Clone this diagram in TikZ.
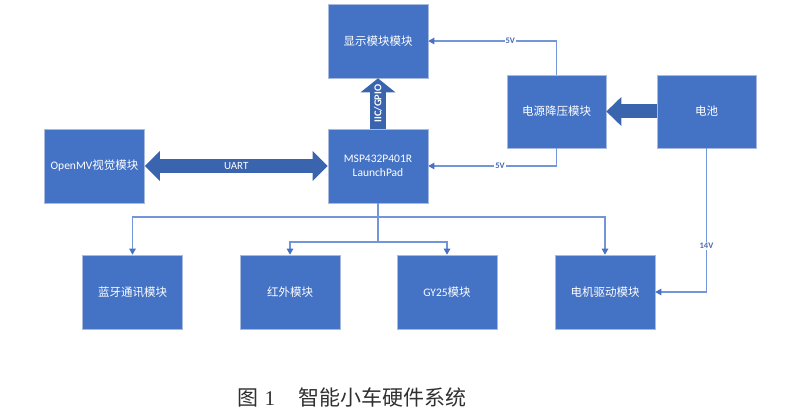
\documentclass[tikz,border=0pt]{standalone}
\usepackage{fontspec}
\setmainfont{Carlito}
\newfontfamily\cjk{Noto Sans CJK SC}
\newfontfamily\capserif{Liberation Serif}
\usetikzlibrary{arrows.meta}
\definecolor{modblue}{HTML}{4472C4}
\definecolor{lineblue}{HTML}{7396D8}
\definecolor{arrblue}{HTML}{3B64AE}
\definecolor{edgeblue}{HTML}{A8BBDF}
\definecolor{voltgray}{HTML}{4A6AAE}
\definecolor{captext}{HTML}{303030}
\tikzset{
  modbox/.style={draw=edgeblue, fill=modblue, line width=0.6pt,
              minimum width=100pt, minimum height=74pt, inner sep=0pt,
              align=center, text=white, font=\fontsize{11.5}{14}\selectfont},
  colorarr/.style={-{Triangle[length=6pt, width=6.5pt, color=modblue]}, line width=1.2pt, color=#1},
  busline/.style={line width=1.2pt, color=lineblue},
  blockarr/.style={line width=#1, color=arrblue},
  bigtip/.tip={Triangle[length=15pt, width=29pt]},
  volt/.style={font=\fontsize{8.5}{9}\selectfont\bfseries, text=voltgray, fill=white, inner sep=1pt},
}

\begin{document}
\begin{tikzpicture}[x=1pt, y=-1pt]
  \useasboundingbox (0,0) rectangle (793,414);

  % Top row
  \node[modbox] (disp) at (378,41) {{\cjk 显示模块模块}};

  % Middle row
  \node[modbox] (openmv) at (94.5,166) {OpenMV{\cjk 视觉模块}};
  \node[modbox] (mcu) at (378,166) {MSP432P401R\\LaunchPad};
  \node[modbox, minimum width=99pt, minimum height=73pt] (power) at (556.5,111.5) {{\cjk 电源降压模块}};
  \node[modbox, minimum width=99pt, minimum height=73pt] (bat) at (706.5,111.5) {{\cjk 电池}};

  % Bottom row
  \node[modbox] (bt) at (132.5,292) {{\cjk 蓝牙通讯模块}};
  \node[modbox] (ir) at (290,292) {{\cjk 红外模块}};
  \node[modbox] (gy) at (447,292) {GY25{\cjk 模块}};
  \node[modbox] (motor) at (605,292) {{\cjk 电机驱动模块}};

  % Block arrows
  \draw[blockarr=14pt, {bigtip}-{bigtip}] (openmv.east) -- (mcu.west)
    node[midway, text=white, font=\fontsize{11}{12}\selectfont] {UART};
  \draw[blockarr=16pt, -{Triangle[length=14pt, width=34pt]}] (mcu.north) -- (disp.south)
    node[pos=0.5, rotate=90, text=white, font=\fontsize{10.5}{11}\selectfont\bfseries] {IIC/GPIO};
  \draw[blockarr=14pt, -{Triangle[length=15pt, width=28pt]}] (bat.west) -- (power.east);

  % Supply lines
  \draw[colorarr=lineblue] (power.north) |- (disp.east) node[volt, pos=0.68] {5V};
  \draw[colorarr=lineblue] (power.south) |- (mcu.east) node[volt, pos=0.72] {5V};
  \draw[colorarr=lineblue] (bat.south) |- (motor.east) node[volt, pos=0.34] {14V};

  % Bus to peripherals
  \coordinate (busa) at (378,217);
  \coordinate (busb) at (378,242);
  \draw[busline] (mcu.south) -- (busb);
  \draw[colorarr=lineblue] (busa) -| (bt.north);
  \draw[colorarr=lineblue] (busa) -| (motor.north);
  \draw[colorarr=lineblue] (busb) -| (ir.north);
  \draw[colorarr=lineblue] (busb) -| (gy.north);

  % Caption
  \node[anchor=west, inner sep=0pt, text=captext, font=\fontsize{21}{22}\selectfont] (cap) at (237,397)
    {{\cjk 图}\hspace{0.3em}{\capserif 1}\hspace{1.1em}{\cjk 智能小车硬件系统}};
\end{tikzpicture}
\end{document}
